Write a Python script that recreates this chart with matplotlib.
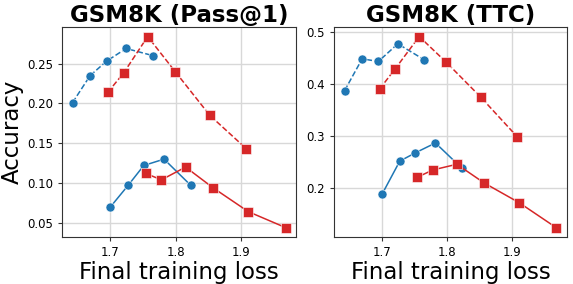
import matplotlib
matplotlib.use("Agg")
import matplotlib.pyplot as plt
from matplotlib.ticker import MultipleLocator

# x positions (final training loss)
x_blue_dash = [1.642, 1.669, 1.694, 1.724, 1.765]
x_blue_solid = [1.700, 1.727, 1.751, 1.782, 1.823]
x_red_dash = [1.696, 1.720, 1.757, 1.799, 1.852, 1.908]
x_red_solid = [1.754, 1.778, 1.815, 1.857, 1.911, 1.968]

# GSM8K Pass@1
p1_blue_dash = [0.201, 0.235, 0.253, 0.269, 0.260]
p1_blue_solid = [0.070, 0.097, 0.122, 0.130, 0.097]
p1_red_dash = [0.214, 0.238, 0.284, 0.240, 0.185, 0.143]
p1_red_solid = [0.112, 0.104, 0.120, 0.094, 0.064, 0.044]

# GSM8K TTC
ttc_blue_dash = [0.388, 0.449, 0.444, 0.478, 0.447]
ttc_blue_solid = [0.189, 0.252, 0.268, 0.287, 0.238]
ttc_red_dash = [0.391, 0.430, 0.492, 0.442, 0.375, 0.299]
ttc_red_solid = [0.221, 0.235, 0.246, 0.210, 0.172, 0.124]

titles = ["GSM8K (Pass@1)", "GSM8K (TTC)"]
ystep = [0.05, 0.1]
blue = "#1f77b4"
red = "#d62728"

fig = plt.figure(figsize=(5.73, 2.84), dpi=100)
ax1 = fig.add_axes([0.108, 0.165, 0.409, 0.74])
ax2 = fig.add_axes([0.583, 0.165, 0.406, 0.74])

panels = [
    (ax1, p1_blue_dash, p1_blue_solid, p1_red_dash, p1_red_solid),
    (ax2, ttc_blue_dash, ttc_blue_solid, ttc_red_dash, ttc_red_solid),
]

for i, (ax, bd, bs, rd, rs) in enumerate(panels):
    mk = dict(markersize=6.5, markeredgecolor="white", markeredgewidth=0.4, linewidth=1.1)
    ax.plot(x_blue_dash, bd, "o--", color=blue, **mk)
    ax.plot(x_blue_solid, bs, "o-", color=blue, **mk)
    ax.plot(x_red_dash, rd, "s--", color=red, **mk)
    ax.plot(x_red_solid, rs, "s-", color=red, **mk)
    ax.set_xticks([1.7, 1.8, 1.9])
    ax.yaxis.set_major_locator(MultipleLocator(ystep[i]))
    ax.grid(True, color="#d8d8d8", linewidth=1)
    ax.set_axisbelow(True)
    ax.tick_params(labelsize=8.5, length=3, color="#333333")
    for s in ax.spines.values():
        s.set_color("#333333")
    ax.set_title(titles[i], fontsize=16.5, fontweight="bold", pad=2)
    ax.set_xlabel("Final training loss", fontsize=16.5, labelpad=1)

ax1.set_ylabel("Accuracy", fontsize=16.5, labelpad=2)

fig.savefig("out.png", dpi=100)
